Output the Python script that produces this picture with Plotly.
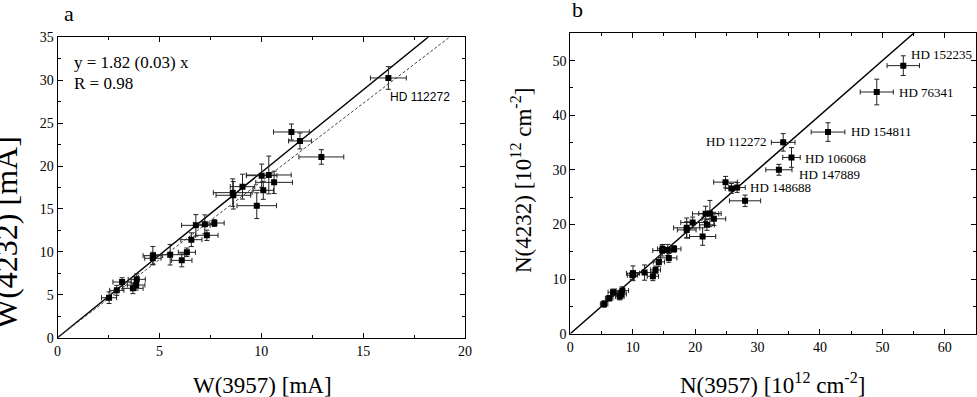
import plotly.graph_objects as go

# panel a: equivalent widths [mA]
w3957 = [16.24, 11.48, 11.90, 12.95, 10.02, 10.37, 10.63, 10.10, 9.08, 8.60, 8.63, 9.78,
         6.79, 7.23, 7.70, 7.33, 6.57, 5.53, 4.68, 4.68, 6.35, 6.10, 3.89, 3.86, 3.70,
         3.17, 2.91, 2.53]
w3957_err = [0.88, 0.88, 0.56, 1.10, 0.75, 1.10, 0.90, 0.50, 0.60, 0.95, 0.85, 0.97,
             0.70, 0.55, 0.48, 0.55, 0.52, 0.72, 0.48, 0.40, 0.42, 0.50, 0.42, 0.43, 0.50,
             0.45, 0.35, 0.37]
w4232 = [30.26, 23.97, 22.92, 21.06, 18.88, 18.96, 18.10, 17.17, 17.60, 16.90, 16.59, 15.38,
         13.09, 13.21, 13.36, 11.93, 11.42, 9.67, 9.56, 9.25, 9.95, 9.01, 6.80, 6.14, 5.75,
         6.49, 5.52, 4.66]
w4232_err = [1.32, 0.93, 0.93, 0.85, 1.35, 2.20, 1.30, 1.05, 1.45, 1.60, 1.60, 1.50,
             1.25, 1.10, 0.40, 0.60, 0.80, 1.20, 1.07, 0.70, 0.50, 0.75, 0.64, 0.60, 0.62,
             0.50, 0.58, 0.68]

# panel b: column densities [10^12 cm^-2]
n3957 = [53.35, 49.10, 41.29, 34.11, 35.44, 33.42, 24.87, 25.82, 26.73, 28.00, 21.68, 22.37,
         23.00, 21.89, 21.20, 19.60, 18.65, 18.65, 16.63, 15.62, 14.72, 14.77, 15.78, 14.19,
         13.66, 13.23, 11.90, 10.04, 9.94, 8.34, 8.18, 7.92, 6.85, 6.22, 5.42]
n3957_err = [2.6, 2.65, 2.7, 1.9, 1.4, 2.1, 1.9, 1.0, 1.3, 2.5, 2.1, 1.8,
             1.9, 1.2, 2.1, 1.9, 2.1, 1.5, 1.1, 1.0, 1.5, 0.8, 1.3, 0.9,
             0.8, 0.9, 1.45, 1.05, 0.8, 1.0, 0.8, 0.7, 0.8, 0.6, 0.6]
n4232 = [49.08, 44.25, 36.92, 35.03, 32.27, 30.01, 27.75, 26.59, 26.77, 24.33, 21.94, 22.00,
         21.03, 19.93, 17.79, 20.35, 19.38, 19.00, 15.53, 15.34, 15.22, 15.53, 13.88, 13.14,
         11.67, 10.51, 11.19, 11.06, 10.70, 7.89, 7.27, 6.79, 7.58, 6.48, 5.44]
n4232_err = [1.8, 2.35, 1.7, 1.6, 1.8, 1.0, 1.05, 0.9, 0.9, 1.05, 1.4, 2.4,
             1.2, 1.0, 1.6, 1.0, 1.8, 1.5, 0.6, 1.0, 1.0, 0.8, 0.8, 0.8,
             0.7, 0.8, 1.4, 1.35, 0.8, 0.7, 0.7, 0.6, 0.6, 0.5, 0.6]

# star labels (name, x, y, anchor)
labels_a = [("HD 112272", 16.2, 28.1, "left")]
labels_b = [("HD 152235", 54.3, 51.2, "left"), ("HD 76341", 52.3, 44.25, "left"),
            ("HD 154811", 44.7, 37.0, "left"), ("HD 112272", 31.8, 35.1, "right"),
            ("HD 106068", 37.3, 32.15, "left"), ("HD 147889", 36.3, 29.2, "left"),
            ("HD 148688", 28.5, 26.8, "left")]

slope_solid_a = 1.925
slope_fit_a = 1.82
slope_b = 1.0

FONT = "Liberation Serif, Times New Roman, serif"
W, H = 977, 397

fig = go.Figure()

errstyle = dict(type="data", color="#222", thickness=1, width=2.5)

# fit lines
xa = [0, 20]
fig.add_trace(go.Scatter(x=xa, y=[slope_solid_a * v for v in xa], mode="lines",
                         line=dict(color="black", width=1.4), xaxis="x", yaxis="y"))
fig.add_trace(go.Scatter(x=xa, y=[slope_fit_a * v for v in xa], mode="lines",
                         line=dict(color="#444", width=1, dash="3px,2px"), xaxis="x", yaxis="y"))
xb = [0, 65]
fig.add_trace(go.Scatter(x=xb, y=[slope_b * v for v in xb], mode="lines",
                         line=dict(color="black", width=1.4), xaxis="x2", yaxis="y2"))

fig.add_trace(go.Scatter(x=w3957, y=w4232, mode="markers",
                         marker=dict(symbol="square", size=6, color="black"),
                         error_x=dict(array=w3957_err, **errstyle),
                         error_y=dict(array=w4232_err, **errstyle),
                         xaxis="x", yaxis="y"))
fig.add_trace(go.Scatter(x=n3957, y=n4232, mode="markers",
                         marker=dict(symbol="square", size=6, color="black"),
                         error_x=dict(array=n3957_err, **errstyle),
                         error_y=dict(array=n4232_err, **errstyle),
                         xaxis="x2", yaxis="y2"))

def ax(rng, dtick, domain, anchor, minor):
    return dict(range=rng, dtick=dtick, domain=domain, anchor=anchor, automargin=False,
                showgrid=False, zeroline=False, showline=True, linecolor="black",
                linewidth=1, mirror="allticks", ticks="inside", ticklen=5,
                tickcolor="black", tickfont=dict(family=FONT, size=14, color="black"),
                minor=dict(dtick=minor, ticks="inside", ticklen=3, tickcolor="black"))

ann = []
for name, x, y, anc in labels_a:
    ann.append(dict(x=x, y=y, xref="x", yref="y", text=name, showarrow=False,
                    xanchor=anc, font=dict(family="Liberation Sans", size=12, color="black")))
for name, x, y, anc in labels_b:
    ann.append(dict(x=x, y=y, xref="x2", yref="y2", text=name, showarrow=False,
                    xanchor=anc, font=dict(family=FONT, size=13, color="black")))

def pa(text, px, py, size, angle=0, xanchor="center"):
    return dict(x=px / W, y=1 - py / H, xref="paper", yref="paper", text=text,
                showarrow=False, xanchor=xanchor, yanchor="middle", textangle=angle,
                font=dict(family=FONT, size=size, color="black"))

ann += [
    pa("y = 1.82 (0.03) x", 72, 62, 17, xanchor="left"),
    pa("R = 0.98", 72, 84, 17, xanchor="left"),
    pa("a", 69, 13, 22),
    pa("b", 577, 9, 22),
    pa("W(3957) [mA]", 262, 385, 23),
    pa("W(4232) [mA]", 6, 233, 32, angle=-90),
    pa("N(3957) [10<sup>12</sup> cm<sup>-2</sup>]", 772, 383, 23),
    pa("N(4232) [10<sup>12</sup> cm<sup>-2</sup>]", 521, 181, 23, angle=-90),
]

fig.update_layout(
    width=W, height=H, margin=dict(l=0, r=0, t=0, b=0),
    paper_bgcolor="white", plot_bgcolor="white", showlegend=False,
    font=dict(family=FONT, color="black"),
    xaxis=ax([0, 20], 5, [57.5 / W, 465 / W], "y", 2.5),
    yaxis=ax([0, 35], 5, [(H - 337.7) / H, (H - 37.3) / H], "x", 2.5),
    xaxis2=ax([0, 65], 10, [570.3 / W, 976 / W], "y2", 5),
    yaxis2=ax([0, 55], 10, [(H - 333.7) / H, (H - 33.3) / H], "x2", 5),
    annotations=ann,
)

# drop the default page margin so the figure sits at the window's corner
fig.write_html("out.html", config={"displayModeBar": False},
               post_script="document.body.style.margin='0';")
